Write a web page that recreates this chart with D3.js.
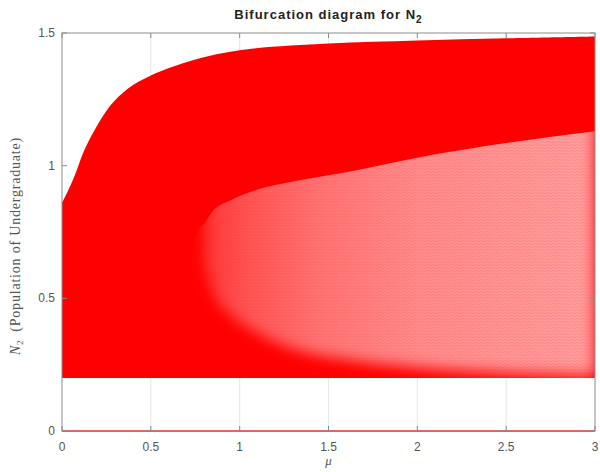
<!DOCTYPE html>
<html>
<head>
<meta charset="utf-8">
<script src="https://cdn.jsdelivr.net/npm/d3@7"></script>
<style>
  body { margin: 0; background: #fff; }
</style>
</head>
<body>
<div id="chart"></div>
<script>
// values
const muTicks = [0, 0.5, 1, 1.5, 2, 2.5, 3];
const nTicks = [0, 0.5, 1, 1.5];

// outer envelope of the attractor
const envMu    = [0, 0.03, 0.07, 0.12, 0.18, 0.27, 0.37, 0.5, 0.75, 1, 1.5, 2, 2.5, 3];
const envUpper = [0.86, 0.9, 0.96, 1.05, 1.13, 1.225, 1.29, 1.34, 1.4, 1.435, 1.46, 1.472, 1.48, 1.487];
const envLower = [0.2, 0.2, 0.2, 0.2, 0.2, 0.2, 0.2, 0.2, 0.2, 0.2, 0.2, 0.2, 0.2, 0.2];

// sparser (lighter) inner part
const innerMu    = [0.8, 0.85, 0.95, 1.1, 1.3, 1.6, 2.0, 2.5, 3];
const innerUpper = [0.78, 0.83, 0.87, 0.91, 0.94, 0.975, 1.03, 1.085, 1.13];
const innerLower = [0.64, 0.52, 0.44, 0.37, 0.31, 0.27, 0.24, 0.22, 0.21];

// N2 = 0 branch
const zeroMu = [0, 3];
const zeroN  = [0, 0];

const WIDTH = 600, HEIGHT = 472;
const M = { left: 62, right: 5, top: 33, bottom: 41 };
const SANS = "'Liberation Sans', Arial, sans-serif";
const SERIF = "'Liberation Serif', 'Times New Roman', serif";

const svg = d3.select("#chart").append("svg")
    .attr("width", WIDTH)
    .attr("height", HEIGHT);

const x = d3.scaleLinear().domain([0, 3]).range([M.left, WIDTH - M.right]);
const y = d3.scaleLinear().domain([0, 1.5]).range([HEIGHT - M.bottom, M.top]);

const defs = svg.append("defs");

const grad = defs.append("linearGradient")
    .attr("id", "fade")
    .attr("gradientUnits", "userSpaceOnUse")
    .attr("x1", x(0.8)).attr("x2", x(3))
    .attr("y1", 0).attr("y2", 0);
[[0, 0.2], [0.1, 0.32], [0.3, 0.46], [0.55, 0.55], [1, 0.62]].forEach(s => {
    grad.append("stop").attr("offset", s[0])
        .attr("stop-color", "#fff").attr("stop-opacity", s[1]);
});

defs.append("filter").attr("id", "soft")
    .attr("x", "-30%").attr("y", "-30%").attr("width", "160%").attr("height", "160%")
    .append("feGaussianBlur").attr("stdDeviation", 7);

// grid (x only)
svg.append("g").selectAll("line")
    .data(muTicks.slice(1, -1))
    .enter().append("line")
    .attr("x1", d => x(d)).attr("x2", d => x(d))
    .attr("y1", y(0)).attr("y2", y(1.5))
    .attr("stroke", "#e6e6e6").attr("stroke-width", 1);

// outer red band
const env = envMu.map((m, i) => ({ mu: m, hi: envUpper[i], lo: envLower[i] }));
svg.append("path")
    .datum(env)
    .attr("fill", "#ff0000")
    .attr("d", d3.area()
        .curve(d3.curveCatmullRom.alpha(0.5))
        .x(d => x(d.mu))
        .y0(d => y(d.lo))
        .y1(d => y(d.hi)));

// lighter inner region: white wash, blurred, clipped under the inner upper edge
const inner = innerMu.map((m, i) => ({ mu: m, hi: innerUpper[i], lo: innerLower[i] }));

const clip = defs.append("clipPath").attr("id", "innerClip");
clip.append("path")
    .datum(inner)
    .attr("d", d3.area()
        .curve(d3.curveMonotoneX)
        .x(d => x(d.mu))
        .y0(y(0.2))
        .y1(d => y(d.hi)));
// rounded nose at the tip so the blur fades out smoothly
const tipMid = (innerUpper[0] + 0.2) / 2;
clip.append("ellipse")
    .attr("cx", x(innerMu[0]) + 1)
    .attr("cy", y(tipMid))
    .attr("rx", 18)
    .attr("ry", y(tipMid) - y(innerUpper[0]));

svg.append("g")
    .attr("clip-path", "url(#innerClip)")
    .append("path")
    .datum(inner)
    .attr("fill", "url(#fade)")
    .attr("filter", "url(#soft)")
    .attr("d", d3.area()
        .curve(d3.curveMonotoneX)
        .x(d => x(d.mu))
        .y0(d => y(d.lo))
        .y1(d => y(d.hi + 0.08)));

// fine line texture in the sparse region
const pat = defs.append("pattern").attr("id", "lines")
    .attr("patternUnits", "userSpaceOnUse")
    .attr("width", 6).attr("height", 3);
pat.append("line")
    .attr("x1", 0).attr("y1", 0.5).attr("x2", 6).attr("y2", 1.5)
    .attr("stroke", "#ff2020").attr("stroke-width", 0.6).attr("stroke-opacity", 0.25);

svg.append("g")
    .attr("clip-path", "url(#innerClip)")
    .append("path")
    .datum(inner)
    .attr("fill", "url(#lines)")
    .attr("d", d3.area()
        .curve(d3.curveMonotoneX)
        .x(d => x(d.mu))
        .y0(d => y(d.lo))
        .y1(d => y(d.hi)));

// axes box
const axisColor = "#8c8c8c";
svg.append("rect")
    .attr("x", x(0)).attr("y", y(1.5))
    .attr("width", x(3) - x(0)).attr("height", y(0) - y(1.5))
    .attr("fill", "none").attr("stroke", axisColor).attr("stroke-width", 1);

// zero branch
const zero = zeroMu.map((m, i) => ({ mu: m, n: zeroN[i] }));
svg.append("path")
    .datum(zero)
    .attr("fill", "none")
    .attr("stroke", "#e0464a")
    .attr("stroke-width", 1.6)
    .attr("d", d3.line().x(d => x(d.mu)).y(d => y(d.n)));

const tickLen = 5;
const ticks = svg.append("g").attr("stroke", axisColor).attr("stroke-width", 1);
muTicks.forEach(t => {
    ticks.append("line").attr("x1", x(t)).attr("x2", x(t)).attr("y1", y(0)).attr("y2", y(0) - tickLen);
    ticks.append("line").attr("x1", x(t)).attr("x2", x(t)).attr("y1", y(1.5)).attr("y2", y(1.5) + tickLen);
});
nTicks.forEach(t => {
    ticks.append("line").attr("x1", x(0)).attr("x2", x(0) + tickLen).attr("y1", y(t)).attr("y2", y(t));
    ticks.append("line").attr("x1", x(3)).attr("x2", x(3) - tickLen).attr("y1", y(t)).attr("y2", y(t));
});

const labelColor = "#555";
svg.append("g").selectAll("text")
    .data(muTicks).enter().append("text")
    .attr("x", d => x(d)).attr("y", y(0) + 20)
    .attr("text-anchor", "middle")
    .style("font-family", SANS)
    .attr("font-size", 12).attr("fill", labelColor)
    .text(d => d);

svg.append("g").selectAll("text")
    .data(nTicks).enter().append("text")
    .attr("x", x(0) - 7).attr("y", d => y(d) + 4)
    .attr("text-anchor", "end")
    .style("font-family", SANS)
    .attr("font-size", 12).attr("fill", labelColor)
    .text(d => d);

// title
const title = svg.append("text")
    .attr("x", (x(0) + x(3)) / 2).attr("y", 19)
    .attr("text-anchor", "middle")
    .style("font-family", SANS)
    .style("letter-spacing", "1px")
    .attr("font-size", 13).attr("font-weight", "bold").attr("fill", "#222");
title.append("tspan").text("Bifurcation diagram for N");
title.append("tspan").attr("font-size", 10).attr("dy", 4).text("2");

// x label
svg.append("text")
    .attr("x", (x(0) + x(3)) / 2).attr("y", 465)
    .attr("text-anchor", "middle")
    .style("font-family", SERIF)
    .attr("font-style", "italic")
    .attr("font-size", 13).attr("fill", labelColor)
    .text("μ");

// y label
const ylab = svg.append("text")
    .attr("transform", "translate(20, 246) rotate(-90)")
    .attr("text-anchor", "middle")
    .style("font-family", SERIF)
    .style("letter-spacing", "0.8px")
    .attr("font-size", 14).attr("fill", labelColor);
ylab.append("tspan").attr("font-style", "italic").text("N");
ylab.append("tspan").attr("font-size", 9).attr("dy", 3).text("2");
ylab.append("tspan").attr("dy", -3).text("\u2002(Population of Undergraduate)");
</script>
</body>
</html>
